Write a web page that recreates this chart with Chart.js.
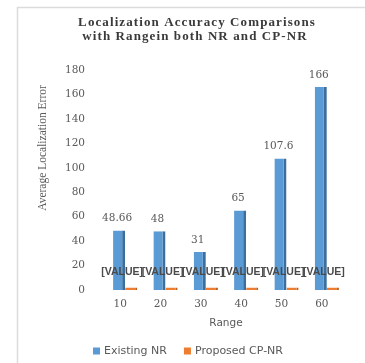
<!DOCTYPE html>
<html>
<head>
<meta charset="utf-8">
<script src="https://cdn.jsdelivr.net/npm/chart.js@4/dist/chart.umd.min.js"></script>
<style>
  html, body { margin: 0; padding: 0; background: #fff; }
  #wrap { width: 365px; height: 363px; position: relative; }
</style>
</head>
<body>
<div id="wrap"><canvas id="c"></canvas></div>
<script>
// Range categories and the two series
const ranges = ['10', '20', '30', '40', '50', '60'];
const existingNR = [48.66, 48, 31, 65, 107.6, 166];
const proposedCPNR = [2, 2, 2, 2, 2, 2];
const proposedLabelText = '[VALUE]';
const seriesNames = ['Existing NR', 'Proposed CP-NR'];
const yMin = 0, yMax = 180, yStep = 20;
const titleLines = ['Localization Accuracy Comparisons', 'with Rangein both NR and CP-NR'];
const yAxisTitle = 'Average Localization Error';
const xAxisTitle = 'Range';

const BLUE = '#5b9bd5', BLUE_SIDE = '#3d6f9e';
const ORANGE = '#ed7d31', ORANGE_SIDE = '#b85f22';
const GREY = '#595959';

const decor = {
  id: 'decor',
  beforeDraw(chart) {
    const ctx = chart.ctx;
    ctx.save();
    ctx.fillStyle = '#fff';
    ctx.fillRect(0, 0, chart.width, chart.height);
    // chart frame
    ctx.strokeStyle = '#dcdcdc';
    ctx.lineWidth = 1.5;
    ctx.beginPath();
    ctx.moveTo(17.5, chart.height);
    ctx.lineTo(17.5, 7.5);
    ctx.lineTo(chart.width, 7.5);
    ctx.stroke();
    ctx.restore();
  },
  afterDatasetsDraw(chart) {
    const ctx = chart.ctx;
    ctx.save();
    ctx.textAlign = 'center';
    ctx.textBaseline = 'middle';
    // value labels over the Existing NR columns
    ctx.font = '10.5px "DejaVu Serif"';
    ctx.fillStyle = GREY;
    chart.getDatasetMeta(0).data.forEach((bar, i) => {
      ctx.fillText(String(chart.data.datasets[0].data[i]), bar.x - 2, bar.y - 12);
    });
    // labels over the Proposed CP-NR columns
    ctx.font = 'bold 10.5px "Liberation Sans"';
    ctx.fillStyle = '#4a4a4a';
    chart.getDatasetMeta(1).data.forEach((bar) => {
      ctx.fillText(proposedLabelText, bar.x - 9, bar.y - 15);
    });
    ctx.restore();
  },
  afterDraw(chart) {
    const ctx = chart.ctx;
    ctx.save();
    // chart title
    ctx.fillStyle = '#3a3a3a';
    ctx.font = 'bold 13px "Liberation Serif"';
    ctx.letterSpacing = '1.1px';
    ctx.textAlign = 'center';
    ctx.textBaseline = 'middle';
    ctx.fillText(titleLines[0], 197, 23);
    ctx.fillText(titleLines[1], 195, 37);
    ctx.letterSpacing = '0px';

    // y-axis title
    ctx.save();
    ctx.translate(43, 148);
    ctx.rotate(-Math.PI / 2);
    ctx.font = '11.5px "Liberation Serif"';
    ctx.fillStyle = GREY;
    ctx.fillText(yAxisTitle, 0, 0);
    ctx.restore();

    // legend
    ctx.font = '11px "DejaVu Sans"';
    ctx.textAlign = 'left';
    const box = 7, gap = 4, between = 17;
    const items = chart.data.datasets.map(ds => ({ text: ds.label, color: ds.backgroundColor, w: ctx.measureText(ds.label).width }));
    const total = items.reduce((s, it) => s + box + gap + it.w, 0) + between * (items.length - 1);
    let x = 188 - total / 2;
    const ly = 351;
    items.forEach(it => {
      ctx.fillStyle = it.color;
      ctx.fillRect(x, ly - box / 2, box, box);
      ctx.fillStyle = GREY;
      ctx.fillText(it.text, x + box + gap, ly + 0.5);
      x += box + gap + it.w + between;
    });
    ctx.restore();
  }
};

new Chart(document.getElementById('c'), {
  type: 'bar',
  data: {
    labels: ranges,
    datasets: [
      {
        label: seriesNames[0],
        data: existingNR,
        backgroundColor: BLUE,
        borderColor: BLUE_SIDE,
        borderWidth: { top: 0, right: 3, bottom: 0, left: 0 },
        borderSkipped: false
      },
      {
        label: seriesNames[1],
        data: proposedCPNR,
        backgroundColor: ORANGE,
        borderColor: ORANGE_SIDE,
        borderWidth: { top: 0, right: 2, bottom: 0, left: 0 },
        borderSkipped: false
      }
    ]
  },
  options: {
    responsive: true,
    maintainAspectRatio: false,
    devicePixelRatio: 1,
    animation: false,
    categoryPercentage: 0.6,
    barPercentage: 1.0,
    layout: { padding: { top: 70, right: 18, bottom: 0, left: 0 } },
    plugins: {
      legend: { display: false },
      title: { display: false },
      tooltip: { enabled: false }
    },
    scales: {
      x: {
        grid: { display: false, drawTicks: false },
        border: { display: false },
        ticks: {
          color: GREY,
          font: { family: 'DejaVu Serif', size: 10.5 },
          padding: 8,
          labelOffset: -5
        },
        title: {
          display: true,
          text: xAxisTitle,
          color: GREY,
          font: { family: 'DejaVu Sans', size: 10.5 },
          padding: { top: 0, bottom: 33 }
        },
        afterFit(scale) { scale.height = 73; }
      },
      y: {
        min: yMin,
        max: yMax,
        grid: { display: false, drawTicks: false },
        border: { display: false },
        ticks: {
          stepSize: yStep,
          color: GREY,
          font: { family: 'DejaVu Serif', size: 10.5 },
          padding: 20
        },
        afterFit(scale) { scale.width = 105; }
      }
    }
  },
  plugins: [decor]
});
</script>
</body>
</html>
